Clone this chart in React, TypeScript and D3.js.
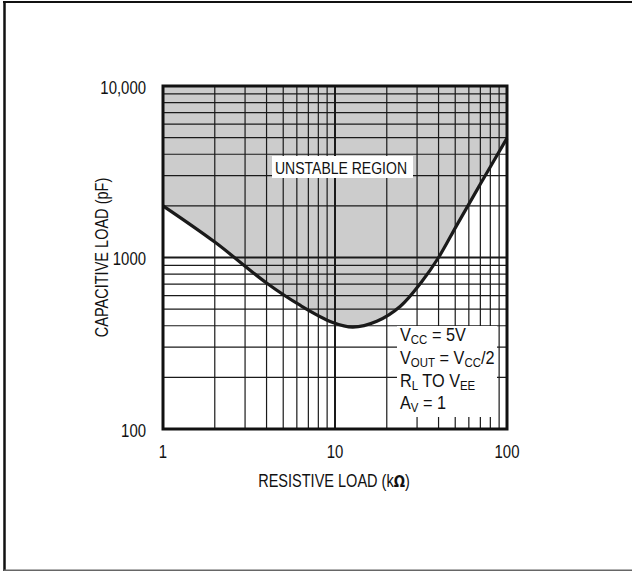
import React from "react";
import * as d3 from "d3";

const resistanceK = [1, 2, 4, 6.3, 9.7, 12.7, 17.5, 24, 32, 40, 51, 70, 100];
const capacitancePF = [2000, 1230, 710, 525, 418, 393, 425, 520, 725, 1000, 1540, 2680, 4970];

const xTickValues = [1, 10, 100];
const xTickLabels = ["1", "10", "100"];
const yTickValues = [100, 1000, 10000];
const yTickLabels = ["100", "1000", "10,000"];

const W = 632;
const H = 571;
const L = 163, R = 507, T = 86, B = 429;
const FONT = "'Liberation Sans', Arial, sans-serif";
const SX = 0.83;

function NText(props: { x: number; y: number; anchor?: string; size: number; rotate?: number; children: React.ReactNode; sx?: number }) {
  const { x, y, anchor = "start", size, rotate = 0, children, sx = SX } = props;
  return (
    <g transform={`translate(${x},${y}) rotate(${rotate}) scale(${sx},1)`}>
      <text x={0} y={0} textAnchor={anchor} fontSize={size} fill="#111">{children}</text>
    </g>
  );
}

export default function App() {
  const x = d3.scaleLog().domain([1, 100]).range([L, R]);
  const y = d3.scaleLog().domain([100, 10000]).range([B, T]);
  const pts = resistanceK.map((r, i) => [r, capacitancePF[i]] as [number, number]);

  const curve = d3.curveCatmullRom.alpha(0.5);
  const line = d3.line<[number, number]>().x(d => x(d[0])).y(d => y(d[1])).curve(curve);
  const area = d3.area<[number, number]>().x(d => x(d[0])).y0(y(10000)).y1(d => y(d[1])).curve(curve);

  const xGrid = x.ticks();
  const yGrid = y.ticks();

  const sub = (t: string) => <tspan fontSize={13} dy={3}>{t}</tspan>;
  const LSX = 0.88;

  return (
    <svg width={W} height={H} style={{ position: "absolute", left: 0, top: 0, background: "#fff" }} fontFamily={FONT}>
      <rect x={0} y={0} width={W} height={H} fill="#fff" />
      {/* outer frame */}
      <line x1={4.5} y1={1} x2={4.5} y2={571} stroke="#111" strokeWidth={2.5} />
      <line x1={3} y1={2} x2={632} y2={2} stroke="#111" strokeWidth={2} />
      <line x1={4} y1={570.3} x2={632} y2={570.3} stroke="#666" strokeWidth={1.5} />

      {/* unstable region */}
      <path d={area(pts) || ""} fill="#cccccc" />

      {/* grid */}
      {xGrid.map((v, i) => (
        <line key={"gx" + i} x1={x(v)} x2={x(v)} y1={T} y2={B} stroke="#1a1a1a" strokeWidth={v === 10 ? 2 : 1.2} />
      ))}
      {yGrid.map((v, i) => (
        <line key={"gy" + i} x1={L} x2={R} y1={y(v)} y2={y(v)} stroke="#1a1a1a" strokeWidth={v === 1000 ? 2 : 1.2} />
      ))}

      {/* curve */}
      <path d={line(pts) || ""} fill="none" stroke="#1a1a1a" strokeWidth={3.2} />

      {/* label boxes */}
      <rect x={272} y={156} width={141} height={22} fill="#fff" />
      <text x={275} y={174} fontSize={17} fill="#111" textLength={132} lengthAdjust="spacingAndGlyphs">UNSTABLE REGION</text>

      <rect x={397} y={326} width={100} height={91} fill="#fff" />
      <NText x={400} y={341} size={18.5} sx={LSX}>V{sub("CC")}<tspan dy={-3}> = 5V</tspan></NText>
      <NText x={400} y={364} size={18.5} sx={LSX}>V{sub("OUT")}<tspan dy={-3}> = V</tspan>{sub("CC")}<tspan dy={-3}>/2</tspan></NText>
      <NText x={400} y={387} size={18.5} sx={LSX}>R{sub("L")}<tspan dy={-3}> TO V</tspan>{sub("EE")}</NText>
      <NText x={400} y={409} size={18.5} sx={LSX}>A{sub("V")}<tspan dy={-3}> = 1</tspan></NText>

      {/* plot border */}
      <rect x={L} y={T} width={R - L} height={B - T} fill="none" stroke="#111" strokeWidth={3} />

      {/* tick labels */}
      {yTickValues.map((v, i) => (
        <NText key={"yl" + i} x={146} y={y(v) + 7.5} anchor="end" size={18}>{yTickLabels[i]}</NText>
      ))}
      {xTickValues.map((v, i) => (
        <NText key={"xl" + i} x={x(v)} y={458} anchor="middle" size={18}>{xTickLabels[i]}</NText>
      ))}

      {/* axis titles */}
      <NText x={334} y={487} anchor="middle" size={17.5}>RESISTIVE LOAD (k<tspan fontFamily="'DejaVu Sans', sans-serif" fontWeight="bold" fontSize={16}>Ω</tspan>)</NText>
      <NText x={108} y={(T + B) / 2} anchor="middle" size={17.5} rotate={-90}>CAPACITIVE LOAD (pF)</NText>
    </svg>
  );
}
